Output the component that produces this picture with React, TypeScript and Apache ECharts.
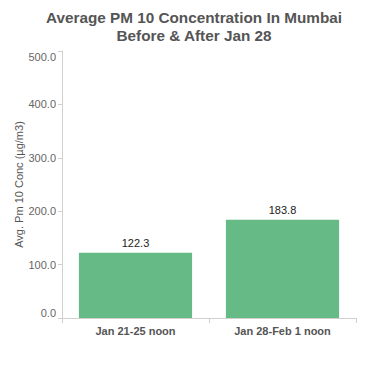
import React, { useEffect, useRef } from "react";
import * as echarts from "echarts";

const categories = ["Jan 21-25 noon", "Jan 28-Feb 1 noon"];
const values = [122.3, 183.8];
const titleText = "Average PM 10 Concentration In Mumbai\nBefore & After Jan 28";
const yAxisName = "Avg. Pm 10 Conc (µg/m3)";

export default function App() {
  const ref = useRef<HTMLDivElement>(null);
  useEffect(() => {
    const chart = echarts.init(ref.current!, null, { renderer: "svg" });
    chart.setOption({
      animation: false,
      textStyle: { fontFamily: "Liberation Sans, Arial, sans-serif" },
      title: {
        text: titleText,
        left: 189,
        textAlign: "center",
        top: 3,
        textStyle: { fontSize: 15.3, fontWeight: "bold", color: "#555", lineHeight: 18 },
      },
      grid: { left: 62, right: 12, top: 51, bottom: 49 },
      xAxis: {
        type: "category",
        data: categories,
        axisLine: { lineStyle: { color: "#d0d0d0" } },
        axisTick: { show: true, length: 5, lineStyle: { color: "#d0d0d0" } },
        axisLabel: { color: "#555", fontWeight: "bold", fontSize: 11, margin: 7 },
      },
      yAxis: {
        type: "value",
        min: 0,
        max: 500,
        interval: 100,
        name: yAxisName,
        nameLocation: "middle",
        nameGap: 38,
        nameMoveOverlap: false,
        nameTextStyle: { color: "#555", fontSize: 11 },
        axisLine: { show: true, lineStyle: { color: "#d0d0d0" } },
        axisTick: { show: true, length: 4, lineStyle: { color: "#d0d0d0" } },
        splitLine: { show: false },
        axisLabel: {
          color: "#666",
          fontSize: 11,
          margin: 6,
          verticalAlignMinLabel: "bottom",
          verticalAlignMaxLabel: "top",
          formatter: (v: number) => v.toFixed(1),
        },
      },
      series: [
        {
          type: "bar",
          data: values,
          barCategoryGap: "23%",
          itemStyle: { color: "#66BA86" },
          label: {
            show: true,
            position: "top",
            color: "#222",
            fontSize: 11,
            distance: 4,
            formatter: (p: any) => Number(p.value).toFixed(1),
          },
        },
      ],
    });
    return () => chart.dispose();
  }, []);
  return <div ref={ref} style={{ width: 368, height: 367, position: "absolute", left: 0, top: 0 }} />;
}
